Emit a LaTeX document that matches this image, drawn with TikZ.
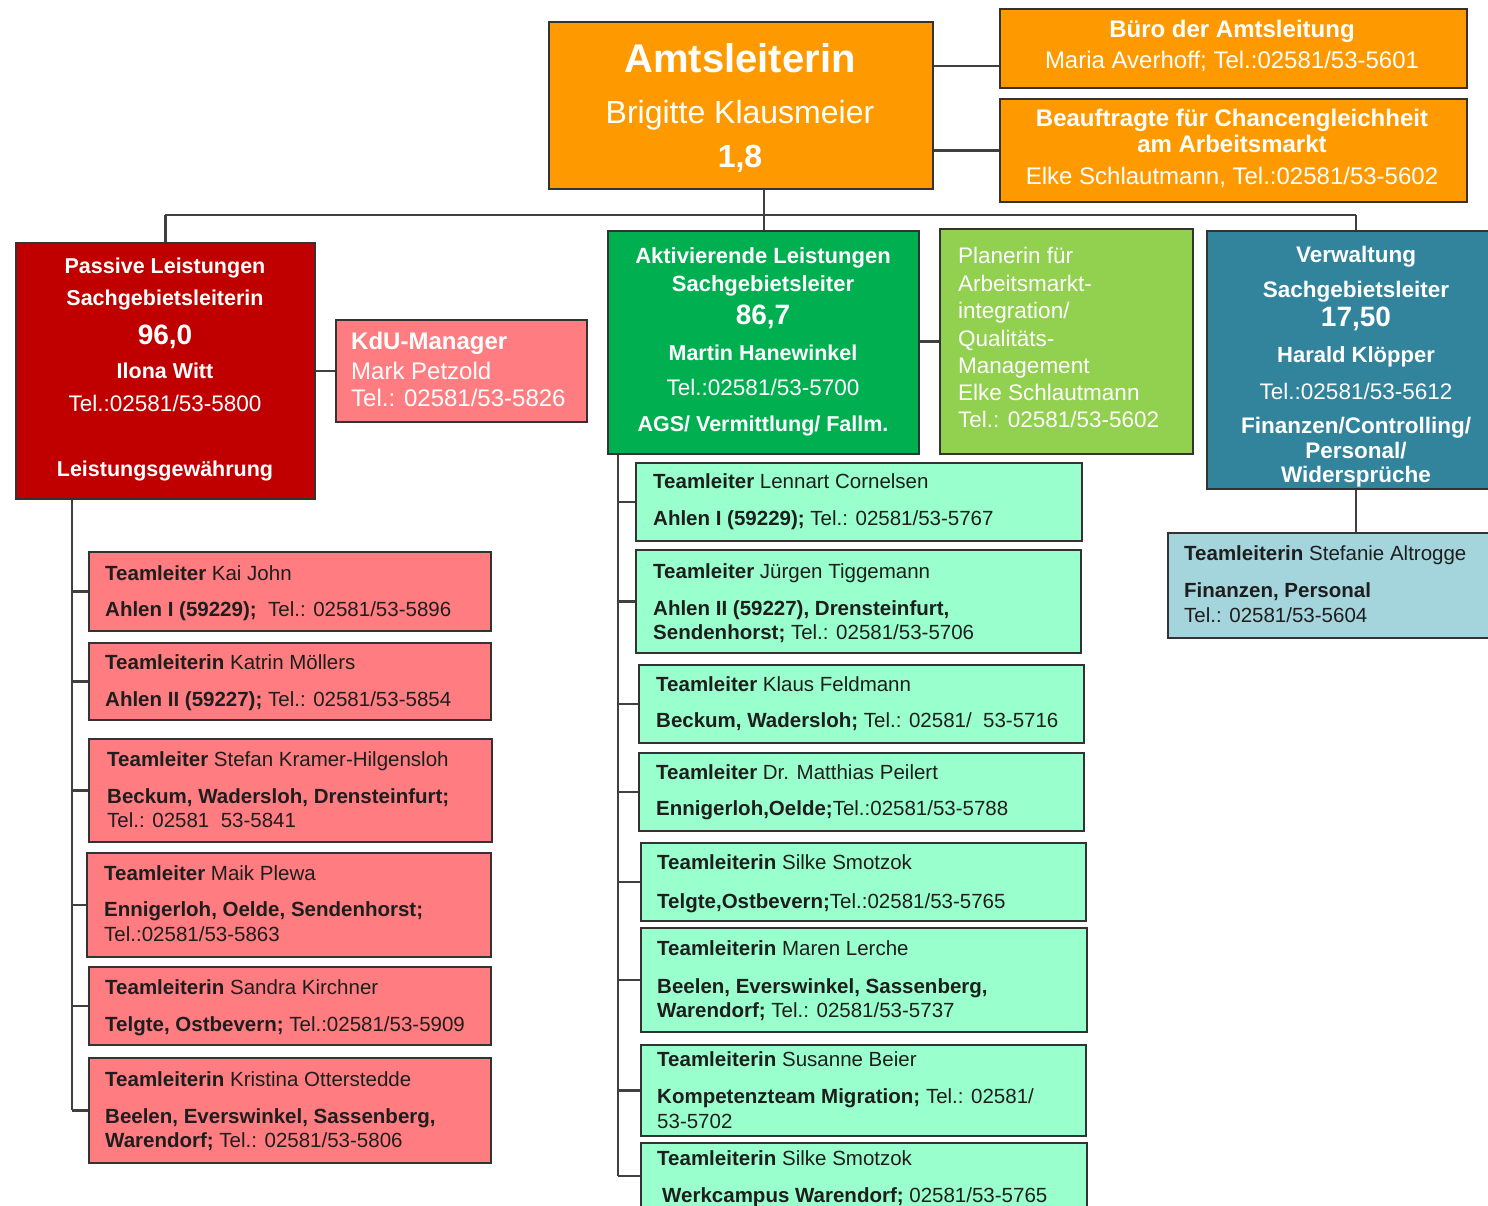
\documentclass[tikz,border=0pt]{standalone}
\usepackage{fontspec}
\setmainfont{Liberation Sans}
\definecolor{cOrange}{HTML}{FF9900}
\definecolor{cDarkRed}{HTML}{C00000}
\definecolor{cSalmon}{HTML}{FF7C80}
\definecolor{cGreen}{HTML}{00B050}
\definecolor{cLightGreen}{HTML}{92D050}
\definecolor{cTeal}{HTML}{31849B}
\definecolor{cLightTeal}{HTML}{A5D5DC}
\definecolor{cMint}{HTML}{99FFCC}
\definecolor{cBorder}{HTML}{333333}
\definecolor{cLine}{HTML}{404040}
\definecolor{cText}{HTML}{1E1E1E}
\newcounter{tlcount}
\newcommand\tline[4]{\stepcounter{tlcount}\node[#1] (tl\arabic{tlcount}) at (#2,#3) {#4};}
\begin{document}
\begin{tikzpicture}[x=1pt,y=-1pt,
  box/.style={draw=cBorder, line width=1.8pt, inner sep=0pt, anchor=north west},
  conn/.style={draw=cLine, line width=2.2pt},
  tl/.style={inner sep=0pt, anchor=base west, text=cText, font=\fontsize{20.5}{24}\selectfont},
  wc/.style={inner sep=0pt, anchor=base, text=white},
  wl/.style={inner sep=0pt, anchor=base west, text=white},
]
\useasboundingbox (0,0) rectangle (1488,1205);

% ---------- connectors ----------
\coordinate (bus) at (764,215);
\coordinate (bueroY) at (0,66);
\coordinate (redX) at (72,0);
\coordinate (greenX) at (618,0);
\coordinate (verwX) at (1356,0);

% ---------- top boxes ----------
\node[box, fill=cOrange, minimum width=384pt, minimum height=167pt] (amt) at (548,21) {};
\node[box, fill=cOrange, minimum width=467pt, minimum height=79pt] (buero) at (999,8) {};
\node[box, fill=cOrange, minimum width=467pt, minimum height=103pt] (beauf) at (999,98) {};
\node[box, fill=cDarkRed, minimum width=299pt, minimum height=256pt] (pas) at (15,242) {};
\node[box, fill=cSalmon, minimum width=251pt, minimum height=102pt] (kdu) at (335,319) {};
\node[box, fill=cGreen, minimum width=311pt, minimum height=223pt] (akt) at (607,230) {};
\node[box, fill=cLightGreen, minimum width=253pt, minimum height=225pt] (plan) at (939,228) {};
\node[box, fill=cTeal, minimum width=300pt, minimum height=258pt] (verw) at (1206,230) {};
\node[box, fill=cLightTeal, minimum width=330pt, minimum height=105pt] (alt) at (1167,532) {};

% ---------- red team boxes ----------
\node[box, fill=cSalmon, minimum width=402pt, minimum height=79pt] (r1) at (88,551) {};
\node[box, fill=cSalmon, minimum width=402pt, minimum height=77pt] (r2) at (88,642) {};
\node[box, fill=cSalmon, minimum width=403pt, minimum height=103pt] (r3) at (88,738) {};
\node[box, fill=cSalmon, minimum width=404pt, minimum height=104pt] (r4) at (86,852) {};
\node[box, fill=cSalmon, minimum width=402pt, minimum height=78pt] (r5) at (88,966) {};
\node[box, fill=cSalmon, minimum width=402pt, minimum height=105pt] (r6) at (88,1057) {};

% ---------- green team boxes ----------
\node[box, fill=cMint, minimum width=446pt, minimum height=78pt] (g1) at (635,462) {};
\node[box, fill=cMint, minimum width=445pt, minimum height=103pt] (g2) at (635,549) {};
\node[box, fill=cMint, minimum width=445pt, minimum height=78pt] (g3) at (638,664) {};
\node[box, fill=cMint, minimum width=445pt, minimum height=78pt] (g4) at (638,752) {};
\node[box, fill=cMint, minimum width=445pt, minimum height=78pt] (g5) at (640,842) {};
\node[box, fill=cMint, minimum width=446pt, minimum height=104pt] (g6) at (640,927) {};
\node[box, fill=cMint, minimum width=445pt, minimum height=91pt] (g7) at (640,1044) {};
\node[box, fill=cMint, minimum width=446pt, minimum height=66pt] (g8) at (640,1142) {};

\path[conn] (amt.east |- bueroY) -- (buero.west |- bueroY);
\path[conn] (amt.east |- beauf.west) -- (beauf.west);
\path[conn] (amt.south -| bus) -- (bus);
\path[conn] (pas.north |- bus) -- (verwX |- bus);
\path[conn] (pas.north |- bus) -- (pas.north);
\path[conn] (akt.north -| bus) -- (bus);
\path[conn] (verw.north -| verwX) -- (verwX |- bus);
\path[conn] (pas.east |- kdu.west) -- (kdu.west);
\path[conn] (akt.east |- plan.west) -- (plan.west);
\path[conn] (verw.south -| verwX) -- (alt.north -| verwX);
\path[conn] (pas.south -| redX) -- (r6.west -| redX);
\foreach \i in {1,...,6} { \path[conn] (r\i.west -| redX) -- (r\i.west); }
\path[conn] (akt.south -| greenX) -- (g8.west -| greenX);
\foreach \i in {1,...,8} { \path[conn] (g\i.west -| greenX) -- (g\i.west); }

% ---------- texts: top ----------
\tline{wc, font=\fontsize{40}{44}\selectfont\bfseries}{740}{72}{Amtsleiterin}
\tline{wc, font=\fontsize{32}{36}\selectfont}{740}{123}{Brigitte Klausmeier}
\tline{wc, font=\fontsize{32}{36}\selectfont\bfseries}{740}{167}{1,8}

\tline{wc, font=\fontsize{24}{28}\selectfont\bfseries}{1232}{37}{Büro der Amtsleitung}
\tline{wc, font=\fontsize{24}{28}\selectfont}{1232}{68}{Maria Averhoff; Tel.:02581/53-5601}

\tline{wc, font=\fontsize{24}{28}\selectfont\bfseries}{1232}{126}{Beauftragte für Chancengleichheit}
\tline{wc, font=\fontsize{24}{28}\selectfont\bfseries}{1232}{152}{am Arbeitsmarkt}
\tline{wc, font=\fontsize{24}{28}\selectfont}{1232}{184}{Elke Schlautmann, Tel.:02581/53-5602}

% Passive
\tline{wc, font=\fontsize{21.5}{24}\selectfont\bfseries}{165}{273}{Passive Leistungen}
\tline{wc, font=\fontsize{21.5}{24}\selectfont\bfseries}{165}{305}{Sachgebietsleiterin}
\tline{wc, font=\fontsize{28}{32}\selectfont\bfseries}{165}{344}{96,0}
\tline{wc, font=\fontsize{21.5}{24}\selectfont\bfseries}{165}{378}{Ilona Witt}
\tline{wc, font=\fontsize{22.5}{24}\selectfont}{165}{411}{Tel.:02581/53-5800}
\tline{wc, font=\fontsize{21.5}{24}\selectfont\bfseries}{165}{476}{Leistungsgewährung}

% KdU
\tline{wl, font=\fontsize{24}{28}\selectfont\bfseries}{351}{349}{KdU-Manager}
\tline{wl, font=\fontsize{24}{28}\selectfont}{351}{379}{Mark Petzold}
\tline{wl, font=\fontsize{24}{28}\selectfont}{351}{406}{Tel.: 02581/53-5826}

% Aktivierende
\tline{wc, font=\fontsize{22}{24}\selectfont\bfseries}{763}{263}{Aktivierende Leistungen}
\tline{wc, font=\fontsize{22}{24}\selectfont\bfseries}{763}{291}{Sachgebietsleiter}
\tline{wc, font=\fontsize{28}{32}\selectfont\bfseries}{763}{324}{86,7}
\tline{wc, font=\fontsize{21.5}{24}\selectfont\bfseries}{763}{360}{Martin Hanewinkel}
\tline{wc, font=\fontsize{22.5}{24}\selectfont}{763}{395}{Tel.:02581/53-5700}
\tline{wc, font=\fontsize{21.5}{24}\selectfont\bfseries}{763}{431}{AGS/ Vermittlung/ Fallm.}

% Planerin
\tline{wl, font=\fontsize{22.5}{24}\selectfont}{958}{263}{Planerin für}
\tline{wl, font=\fontsize{22.5}{24}\selectfont}{958}{291}{Arbeitsmarkt-}
\tline{wl, font=\fontsize{22.5}{24}\selectfont}{958}{318}{integration/}
\tline{wl, font=\fontsize{22.5}{24}\selectfont}{958}{346}{Qualitäts-}
\tline{wl, font=\fontsize{22.5}{24}\selectfont}{958}{373}{Management}
\tline{wl, font=\fontsize{22.5}{24}\selectfont}{958}{400}{Elke Schlautmann}
\tline{wl, font=\fontsize{22.5}{24}\selectfont}{958}{427}{Tel.: 02581/53-5602}

% Verwaltung
\tline{wc, font=\fontsize{22.5}{24}\selectfont\bfseries}{1356}{262}{Verwaltung}
\tline{wc, font=\fontsize{22.5}{24}\selectfont\bfseries}{1356}{297}{Sachgebietsleiter}
\tline{wc, font=\fontsize{28}{32}\selectfont\bfseries}{1356}{326}{17,50}
\tline{wc, font=\fontsize{22}{24}\selectfont\bfseries}{1356}{362}{Harald Klöpper}
\tline{wc, font=\fontsize{22.5}{24}\selectfont}{1356}{399}{Tel.:02581/53-5612}
\tline{wc, font=\fontsize{22.5}{24}\selectfont\bfseries}{1356}{433}{Finanzen/Controlling/}
\tline{wc, font=\fontsize{22.5}{24}\selectfont\bfseries}{1356}{458}{Personal/}
\tline{wc, font=\fontsize{22.5}{24}\selectfont\bfseries}{1356}{482}{Widersprüche}

% Altrogge
\tline{tl}{1184}{560}{\textbf{Teamleiterin} Stefanie Altrogge}
\tline{tl}{1184}{597}{\textbf{Finanzen, Personal}}
\tline{tl}{1184}{622}{Tel.: 02581/53-5604}

% ---------- red team texts ----------
\tline{tl}{105}{580}{\textbf{Teamleiter} Kai John}
\tline{tl}{105}{616}{\textbf{Ahlen I (59229);}\ \ Tel.: 02581/53-5896}
\tline{tl}{105}{669}{\textbf{Teamleiterin} Katrin Möllers}
\tline{tl}{105}{706}{\textbf{Ahlen II (59227);} Tel.: 02581/53-5854}
\tline{tl}{107}{766}{\textbf{Teamleiter} Stefan Kramer-Hilgensloh}
\tline{tl}{107}{803}{\textbf{Beckum, Wadersloh, Drensteinfurt;}}
\tline{tl}{107}{827}{Tel.: 02581\ \ 53-5841}
\tline{tl}{104}{880}{\textbf{Teamleiter} Maik Plewa}
\tline{tl}{104}{916}{\textbf{Ennigerloh, Oelde, Sendenhorst;}}
\tline{tl}{104}{941}{Tel.:02581/53-5863}
\tline{tl}{105}{994}{\textbf{Teamleiterin} Sandra Kirchner}
\tline{tl}{105}{1031}{\textbf{Telgte, Ostbevern;} Tel.:02581/53-5909}
\tline{tl}{105}{1086}{\textbf{Teamleiterin} Kristina Otterstedde}
\tline{tl}{105}{1123}{\textbf{Beelen, Everswinkel, Sassenberg,}}
\tline{tl}{105}{1147}{\textbf{Warendorf;} Tel.: 02581/53-5806}

% ---------- green team texts ----------
\tline{tl}{653}{488}{\textbf{Teamleiter} Lennart Cornelsen}
\tline{tl}{653}{525}{\textbf{Ahlen I (59229);} Tel.: 02581/53-5767}
\tline{tl}{653}{578}{\textbf{Teamleiter} Jürgen Tiggemann}
\tline{tl}{653}{615}{\textbf{Ahlen II (59227), Drensteinfurt,}}
\tline{tl}{653}{639}{\textbf{Sendenhorst;} Tel.: 02581/53-5706}
\tline{tl}{656}{691}{\textbf{Teamleiter} Klaus Feldmann}
\tline{tl}{656}{727}{\textbf{Beckum, Wadersloh;} Tel.: 02581/\ \ 53-5716}
\tline{tl}{656}{779}{\textbf{Teamleiter} Dr. Matthias Peilert}
\tline{tl}{656}{815}{\textbf{Ennigerloh,Oelde;}Tel.:02581/53-5788}
\tline{tl}{657}{869}{\textbf{Teamleiterin} Silke Smotzok}
\tline{tl}{657}{908}{\textbf{Telgte,Ostbevern;}Tel.:02581/53-5765}
\tline{tl}{657}{955}{\textbf{Teamleiterin} Maren Lerche}
\tline{tl}{657}{993}{\textbf{Beelen, Everswinkel, Sassenberg,}}
\tline{tl}{657}{1017}{\textbf{Warendorf;} Tel.: 02581/53-5737}
\tline{tl}{657}{1066}{\textbf{Teamleiterin} Susanne Beier}
\tline{tl}{657}{1103}{\textbf{Kompetenzteam Migration;} Tel.: 02581/}
\tline{tl}{657}{1128}{53-5702}
\tline{tl}{657}{1165}{\textbf{Teamleiterin} Silke Smotzok}
\tline{tl}{662}{1202}{\textbf{Werkcampus Warendorf;} 02581/53-5765}
\end{tikzpicture}
\end{document}
